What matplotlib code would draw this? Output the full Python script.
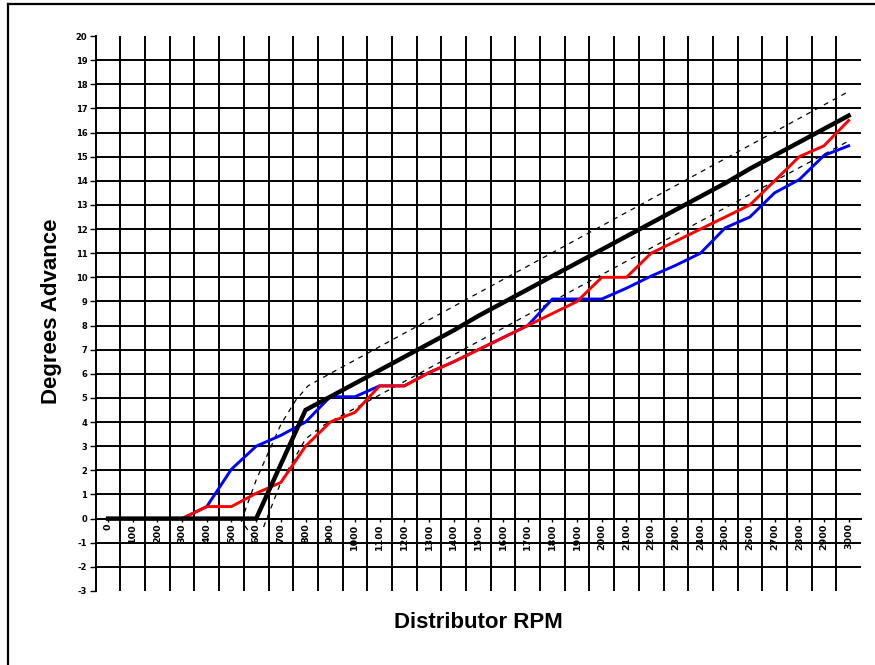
import matplotlib
matplotlib.use("Agg")
import matplotlib.pyplot as plt
from matplotlib.lines import Line2D

plt.rcParams['font.weight'] = 'bold'

# ---- data ----
rpm = [0, 100, 200, 300, 400, 500, 600, 700, 800, 900, 1000, 1100, 1200, 1300, 1400,
       1500, 1600, 1700, 1800, 1900, 2000, 2100, 2200, 2300, 2400, 2500, 2600, 2700,
       2800, 2900, 3000]
rpm_labels = [str(r) for r in rpm]

spec_curve = [0, 0, 0, 0, 0, 0, 0, 2.25, 4.5, 5.05, 5.6, 6.15, 6.7, 7.25, 7.8,
              8.4, 8.95, 9.5, 10.05, 10.6, 11.15, 11.7, 12.25, 12.8, 13.35, 13.9,
              14.5, 15.05, 15.6, 16.15, 16.7]
blue_curve = [0, 0, 0, 0, 0.5, 2.05, 3.0, 3.45, 4.0, 5.05, 5.05, 5.5, 5.5, 6.05, 6.5,
              7.0, 7.5, 8.0, 9.1, 9.1, 9.1, 9.55, 10.05, 10.5, 11.0, 12.05, 12.5,
              13.5, 14.05, 15.05, 15.45]
red_curve = [0, 0, 0, 0, 0.5, 0.5, 1.05, 1.5, 3.0, 4.0, 4.4, 5.5, 5.5, 6.05, 6.5,
             7.0, 7.5, 8.0, 8.5, 9.0, 10.0, 10.0, 11.0, 11.5, 12.0, 12.5, 13.0,
             14.0, 15.0, 15.45, 16.5]

upper_rpm = [590, 540, 600, 700, 760, 810, 880, 3000]
upper_val = [-0.8, -0.1, 1.6, 3.9, 4.9, 5.5, 5.9, 17.7]
lower_rpm = [630, 700, 800, 870, 3000]
lower_val = [-0.35, 1.5, 3.3, 3.85, 15.65]

y_ticks = list(range(-3, 21))

# ---- figure ----
fig = plt.figure(figsize=(8.75, 6.65), dpi=100)
ax = fig.add_axes([95.7 / 875, 1 - 591 / 665, (861 - 95.7) / 875, (591 - 36) / 665])

ax.set_xlim(-50, 3050)
ax.set_ylim(-3, 20)

boundaries = [r + 50 for r in rpm[:-1]]
ax.set_xticks(boundaries, minor=True)
ax.set_xticks(rpm, rpm_labels)
ax.set_yticks(y_ticks, [str(v) for v in y_ticks])

ax.tick_params(axis='x', which='minor', length=0)
ax.tick_params(axis='x', which='major', length=2.5, width=1, pad=1, direction='out',
               labelrotation=90, labelsize=6.8)
ax.tick_params(axis='y', which='major', length=4.5, width=1, pad=1.5, direction='out',
               labelsize=6)

ax.grid(which='minor', axis='x', color='black', lw=1.4)
ax.grid(which='major', axis='y', color='black', lw=1.4)
glines = ax.get_ygridlines()
glines[0].set_visible(False)
glines[-1].set_visible(False)
ax.set_axisbelow(True)

for s in ['top', 'right']:
    ax.spines[s].set_visible(False)
ax.spines['bottom'].set_position(('data', 0))
ax.spines['bottom'].set_linewidth(1.4)
ax.spines['left'].set_linewidth(1.4)

# lines
ax.plot(upper_rpm, upper_val, color='black', lw=0.9, ls=(0, (4, 4)))
ax.plot(lower_rpm, lower_val, color='black', lw=0.9, ls=(0, (4, 4)))
ax.plot(rpm, blue_curve, color='#0000ff', lw=2.1, solid_joinstyle='miter')
ax.plot(rpm, red_curve, color='#ff0000', lw=2.1, solid_joinstyle='miter')
ax.plot(rpm, spec_curve, color='black', lw=3.2, solid_joinstyle='miter')

# axis titles
fig.text(478 / 875, 1 - 623 / 665, 'Distributor RPM', ha='center', va='center',
         fontsize=16, fontweight='bold', family='Liberation Sans')
fig.text(52 / 875, 1 - 311 / 665, 'Degrees Advance', ha='center', va='center',
         rotation=90, fontsize=16, fontweight='bold', family='Liberation Sans')

# outer frame (left and top)
fig.add_artist(Line2D([8 / 875, 8 / 875], [0, 1 - 4 / 665], color='black', lw=1.6))
fig.add_artist(Line2D([8 / 875, 1], [1 - 4 / 665, 1 - 4 / 665], color='black', lw=1.6))

fig.savefig('out.png', dpi=100)
